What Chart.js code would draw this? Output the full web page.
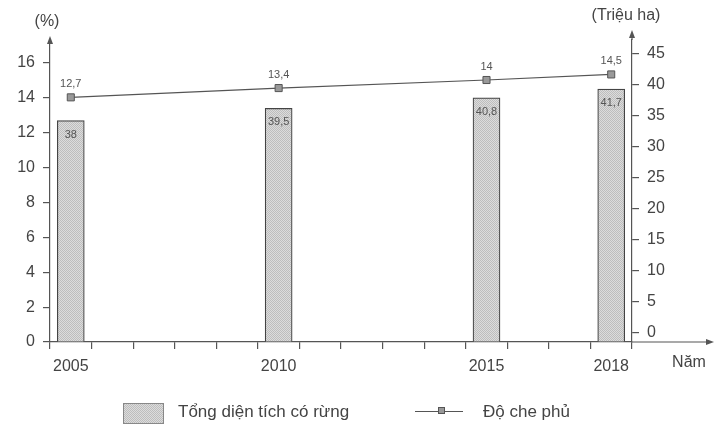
<!DOCTYPE html>
<html>
<head>
<meta charset="utf-8">
<script src="https://cdn.jsdelivr.net/npm/chart.js@4/dist/chart.umd.min.js"></script>
<style>
  body { margin: 0; background: #fff; }
  #wrap { position: relative; width: 724px; height: 425px; }
  #legend { position: absolute; left: 0; top: 0; width: 724px; height: 425px; pointer-events: none;
    font-family: "Liberation Sans", Arial, sans-serif; font-size: 17px; color: #444; }
  #legend .box { position: absolute; left: 123px; top: 403px; width: 41px; height: 21px; border: 1px solid #888; box-sizing: border-box; }
  #legend .txt { position: absolute; top: 401px; line-height: 22px; white-space: nowrap; }
  #legend .ln { position: absolute; left: 415px; top: 411px; width: 48px; height: 0; border-top: 1.2px solid #555; }
  #legend .mk { position: absolute; left: 438px; top: 407px; width: 7px; height: 7px; background: #999; border: 1px solid #555; box-sizing: border-box; }
</style>
</head>
<body>
<div id="wrap">
  <canvas id="chart"></canvas>
  <div id="legend">
    <div class="box" id="legend-box"></div>
    <div class="txt" style="left:178px">Tổng diện tích có rừng</div>
    <div class="ln"></div><div class="mk"></div>
    <div class="txt" style="left:483px">Độ che phủ</div>
  </div>
</div>
<script>
// ==== Data (as printed on the figure) ====
const yearTicks = ['2005', '2006', '2007', '2008', '2009', '2010', '2011',
                   '2012', '2013', '2014', '2015', '2016', '2017', '2018'];
const years = ['2005', '2010', '2015', '2018'];
const areaMillionHa = [12.7, 13.4, 14, 14.5];   // bar heights, left axis
const coveragePct = [38, 39.5, 40.8, 41.7];     // line points, right axis
const leftTicks = [0, 2, 4, 6, 8, 10, 12, 14, 16];
const rightTicks = [0, 5, 10, 15, 20, 25, 30, 35, 40, 45];

const FONT = '"Liberation Sans", Arial, sans-serif';
const INK = '#555';

// ==== Grainy grey fill for the bars ====
function makePattern() {
  const c = document.createElement('canvas');
  c.width = 2; c.height = 2;
  const g = c.getContext('2d');
  g.fillStyle = '#dcdcdc';
  g.fillRect(0, 0, 2, 2);
  g.fillStyle = '#bdbdbd';
  g.fillRect(0, 0, 1, 1); g.fillRect(1, 1, 1, 1);
  return c;
}
const patCanvas = makePattern();
const ctx = document.getElementById('chart').getContext('2d');
const barFill = ctx.createPattern(patCanvas, 'repeat');
document.getElementById('legend-box').style.backgroundImage = 'url(' + patCanvas.toDataURL() + ')';

const fmt = v => String(v).replace('.', ',');

// ==== Value labels (printed the way the figure prints them) ====
const valueLabels = {
  id: 'valueLabels',
  afterDatasetsDraw(chart) {
    const c = chart.ctx;
    c.save();
    c.font = '11px ' + FONT;
    c.fillStyle = INK;
    c.textAlign = 'center';
    c.textBaseline = 'middle';
    chart.getDatasetMeta(1).data.forEach((bar, i) => {
      c.fillText(fmt(coveragePct[i]), bar.x, bar.y + 14);
    });
    chart.getDatasetMeta(0).data.forEach((pt, i) => {
      c.fillText(fmt(areaMillionHa[i]), pt.x, pt.y - 13);
    });
    c.restore();
  }
};

// ==== Axis arrows, units ====
const axisDeco = {
  id: 'axisDeco',
  afterDraw(chart) {
    const c = chart.ctx;
    const a = chart.chartArea;
    c.save();
    c.strokeStyle = INK;
    c.fillStyle = INK;
    c.lineWidth = 1.2;
    function arrowUp(x, tipY) {
      c.beginPath(); c.moveTo(x, a.top); c.lineTo(x, tipY + 3); c.stroke();
      c.beginPath(); c.moveTo(x, tipY); c.lineTo(x - 3, tipY + 8); c.lineTo(x + 3, tipY + 8); c.closePath(); c.fill();
    }
    arrowUp(a.left, 36);
    arrowUp(a.right, 30);
    // x axis runs on past the right axis
    c.beginPath(); c.moveTo(a.right, a.bottom); c.lineTo(708, a.bottom); c.stroke();
    c.beginPath(); c.moveTo(714, a.bottom); c.lineTo(706, a.bottom - 3); c.lineTo(706, a.bottom + 3); c.closePath(); c.fill();

    c.font = '16px ' + FONT;
    c.fillStyle = '#444';
    c.textAlign = 'center';
    c.textBaseline = 'middle';
    c.fillText('(%)', 47, 22);
    c.fillText('(Triệu ha)', 626, 16);
    c.fillText('Năm', 689, 363);
    c.restore();
  }
};

const setTicks = list => scale => { scale.ticks = list.map(v => ({ value: v })); };

new Chart(ctx, {
  type: 'bar',
  data: {
    labels: yearTicks,
    datasets: [
      {
        type: 'line',
        label: 'Độ che phủ',
        data: years.map((y, i) => ({ x: y, y: coveragePct[i] })),
        yAxisID: 'yR',
        order: 0,
        borderColor: INK,
        borderWidth: 1.2,
        pointStyle: 'rect',
        pointRadius: 5,
        pointBackgroundColor: '#999',
        pointBorderColor: INK,
        pointBorderWidth: 1,
        tension: 0
      },
      {
        label: 'Tổng diện tích có rừng',
        data: years.map((y, i) => ({ x: y, y: areaMillionHa[i] })),
        yAxisID: 'yL',
        order: 1,
        backgroundColor: barFill,
        borderColor: '#444',
        borderWidth: 1.2,
        borderSkipped: 'bottom',
        barThickness: 27
      }
    ]
  },
  options: {
    responsive: true,
    maintainAspectRatio: false,
    animation: false,
    layout: { padding: { top: 40, left: 0, right: 0, bottom: 0 } },
    plugins: { legend: { display: false }, tooltip: { enabled: false } },
    scales: {
      x: {
        type: 'category',
        offset: true,
        grid: { offset: true, drawOnChartArea: false, tickLength: 7, color: INK, lineWidth: 1.2 },
        border: { color: INK, width: 1.2 },
        ticks: {
          autoSkip: false, maxRotation: 0, padding: 8,
          color: '#444', font: { family: FONT, size: 16 },
          callback(value) {
            const lab = this.getLabelForValue(value);
            return years.includes(lab) ? lab : '';
          }
        },
        afterFit(scale) { scale.height = 83; }
      },
      yL: {
        position: 'left',
        min: 0,
        max: 17.32,
        afterBuildTicks: setTicks(leftTicks),
        grid: { drawOnChartArea: false, tickLength: 7, color: INK, lineWidth: 1.2 },
        border: { color: INK, width: 1.2 },
        ticks: { padding: 8, color: '#444', font: { family: FONT, size: 16 } },
        afterFit(scale) { scale.width = 50; }
      },
      yR: {
        position: 'right',
        min: -1.5,
        max: 47.26,
        afterBuildTicks: setTicks(rightTicks),
        grid: { drawOnChartArea: false, tickLength: 7, color: INK, lineWidth: 1.2 },
        border: { color: INK, width: 1.2 },
        ticks: { padding: 8, color: '#444', font: { family: FONT, size: 16 } },
        afterFit(scale) { scale.width = 92; }
      }
    }
  },
  plugins: [valueLabels, axisDeco]
});
</script>
</body>
</html>
